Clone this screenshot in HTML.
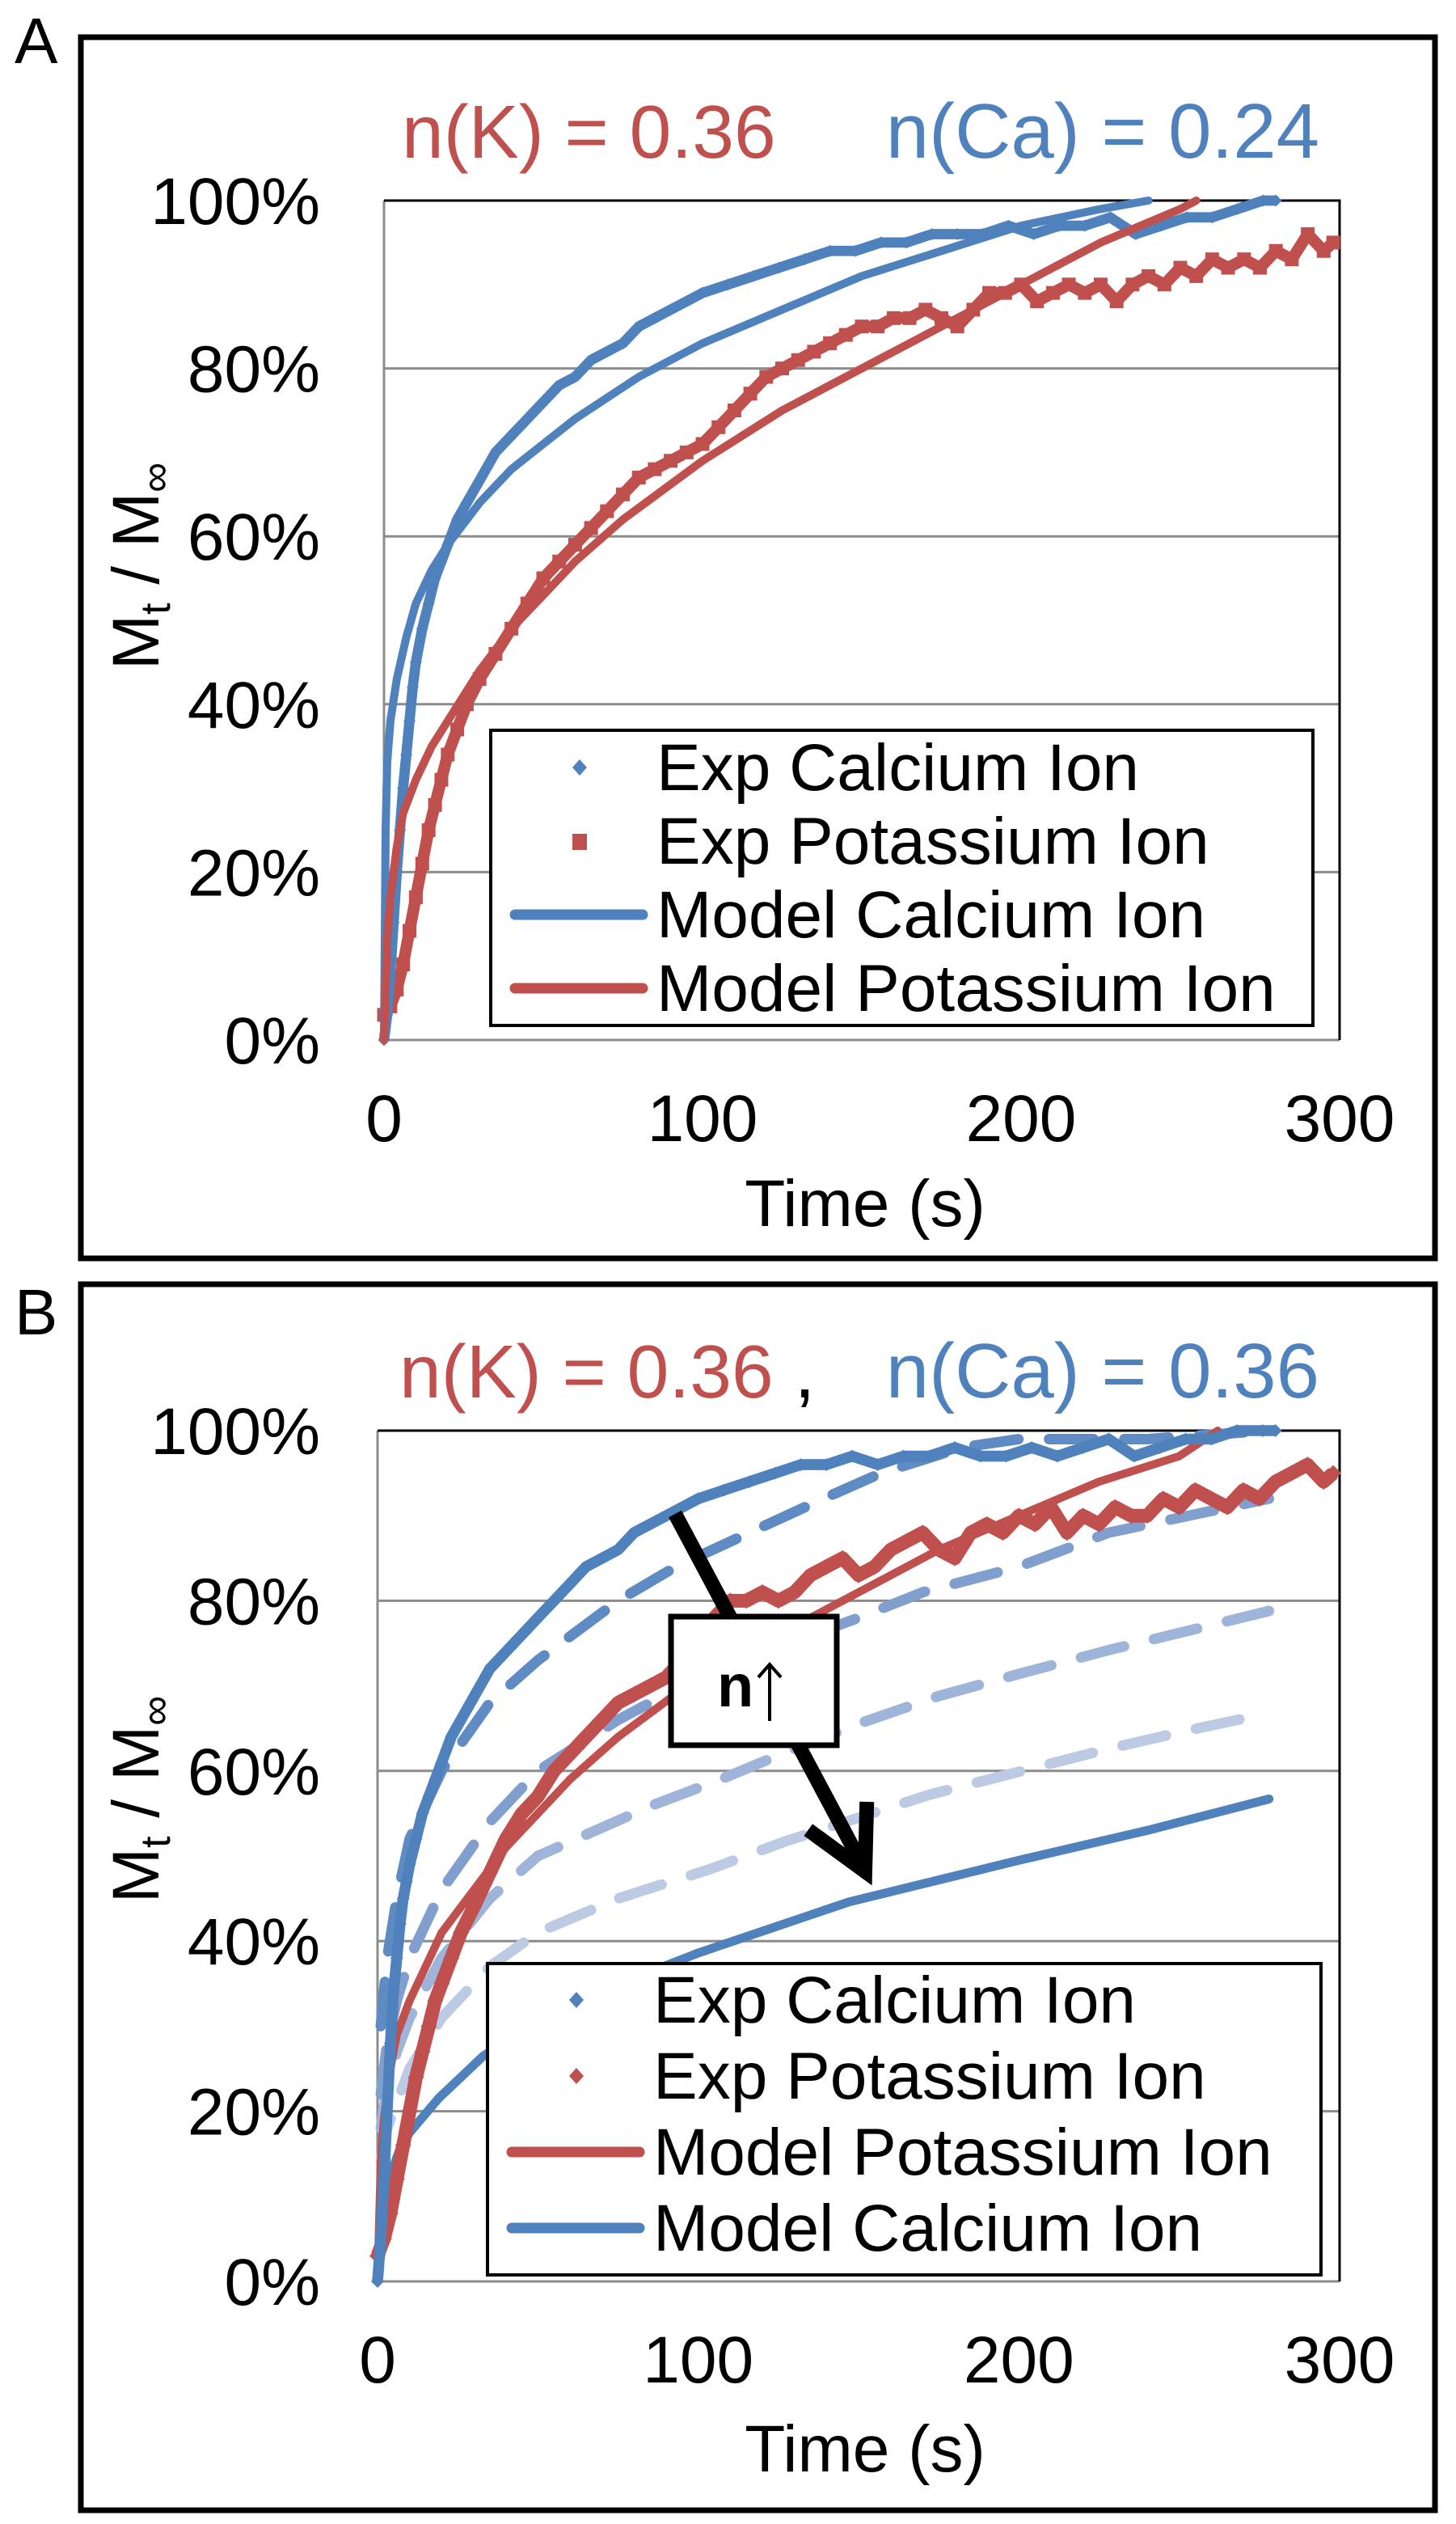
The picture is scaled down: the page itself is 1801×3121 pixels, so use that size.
<!DOCTYPE html>
<html><head><meta charset="utf-8"><style>
html,body{margin:0;padding:0;background:#fff;}
svg{display:block;font-family:"Liberation Sans",Arial,sans-serif;}
</style></head><body>
<svg id="fig" width="1801" height="3121" viewBox="0 0 1801 3121" xmlns="http://www.w3.org/2000/svg">
<text x="18" y="78" font-size="80">A</text>
<rect x="100" y="46" width="1675" height="1510" fill="none" stroke="#000" stroke-width="7"/>
<text x="18" y="1650" font-size="80">B</text>
<rect x="100" y="1588" width="1675" height="1516" fill="none" stroke="#000" stroke-width="7"/>
<g id="pa"></g>
<g id="pb"></g>
</svg>
<script>
// ---------- Panel A data ----------
const yTicks = [0,20,40,60,80,100];
const yTickLabels = ["0%","20%","40%","60%","80%","100%"];
const xTicks = [0,100,200,300];
const xTickLabels = ["0","100","200","300"];

const aExpCaT = [0,1,2,3,4,5,6,7,8,9,10,12,14,16,18,20,23,26,29,32,35,40,45,50,55,60,65,70,75,80,85,90,95,100,108,116,124,132,140,148,156,164,172,180,188,196,204,212,220,228,236,244,252,260,268,276,280];
const aExpCaV = [0,3,8,14,20,25,30,34,38,42,45,49,52,55,57,59,62,64,66,68,70,72,74,76,78,79,81,82,83,85,86,87,88,89,90,91,92,93,94,94,95,95,96,96,96,97,96,97,97,98,96,97,98,98,99,100,100];
const aModCaT = [0,0.5,1,2,4,7,10,15,20,30,40,50,60,80,100,125,150,175,200,225,240];
const aModCaV = [0,25,33,38,43,48,52,56,59,64,68,71,74,79,83,87,91,94,97,99,100];
const aExpKT = [0,2,4,6,8,10,12,14,16,18,20,23,26,30,35,40,45,50,55,60,65,70,75,80,85,90,95,100,105,110,115,120,125,130,135,140,145,150,155,160,165,170,175,180,185,190,195,200,205,210,215,220,225,230,235,240,245,250,255,260,265,270,275,280,285,290,295,298];
const aExpKV = [3,4,6,9,13,17,21,25,28,31,34,37,40,43,46,49,52,55,57,59,61,63,65,67,68,69,70,71,73,75,77,79,80,81,82,83,84,85,85,86,86,87,86,85,87,89,89,90,88,89,90,89,90,88,90,91,90,92,91,93,92,93,92,94,93,96,94,95];
const aModKT = [0,1,2,4,6,10,15,20,30,40,50,60,75,100,125,150,175,200,225,250,255];
const aModKV = [0,12,17,23,27,31,35,38,44,49,53,57,62,69,75,80,85,90,95,99,100];

// ---------- Panel B data ----------
const bExpCaT = [0,1,2,3,4,5,6,7,8,9,10,12,14,16,18,20,23,26,29,32,35,40,45,50,55,60,65,70,75,80,85,90,95,100,108,116,124,132,140,148,156,164,172,180,188,196,204,212,220,228,236,244,252,260,268,276,280];
const bExpCaV = [0,5,12,20,28,34,38,42,45,47,49,52,55,57,59,61,64,66,68,70,72,74,76,78,80,82,84,85,86,88,89,90,91,92,93,94,95,96,96,97,96,97,97,98,97,97,98,97,98,99,97,98,99,99,100,100,100];
const bExpKT = [0,2,4,6,8,10,12,14,16,18,20,23,26,30,35,40,45,50,55,60,65,70,75,80,85,90,95,100,105,110,115,120,125,130,135,140,145,150,155,160,165,170,175,180,185,190,195,200,205,210,215,220,225,230,235,240,245,250,255,260,265,270,275,280,285,290,295,298];
const bExpKV = [3,5,8,12,16,20,24,27,30,33,35,38,41,44,48,52,55,57,60,62,64,66,68,69,70,71,73,75,78,80,80,81,80,81,83,84,85,83,84,86,87,88,86,85,88,89,88,90,89,91,88,90,89,91,90,90,92,91,93,92,91,93,92,94,95,96,94,95];
const bModKT = [0,1,2,4,6,10,15,20,30,40,50,60,75,100,125,150,175,200,225,250,262];
const bModKV = [0,14,19,25,29,33,37,41,46,51,55,59,64,71,76,81,86,90,94,97,100];
const bModCaT = [1,2,4,7,10,19,33,60,100,147,200,240,278];
const bModCaV = [7,9.5,12.5,15.6,17.5,21.5,26.5,32.7,38.6,44.6,49.5,53,56.7];
const bDash1T = [1,3,6,10,20,35,50,75,93,116,139,157,182,200,240,278];
const bDash1V = [30,38,45,52,60,68,73,80,84,88,92,95,98,99,99,100];
const bDash2T = [1,3,6,10,20,35,50,75,100,150,170,200,228,253,278];
const bDash2V = [22,28,33,38,46,54,60,66,71,78,81,84,88,90,92];
const bDash3T = [1,3,6,10,20,35,50,86,107,126,152,175,201,229,252,278];
const bDash3V = [18,23,27,31,38,45,50,56,59,62,65.8,68.8,71.5,74.3,76.4,78.8];
const bDash4T = [1,3,6,10,20,35,50,75,104,127,172,201,229,252,278];
const bDash4V = [14,18,21,25,31,37,41,45,48.5,51.7,57.2,60,62.7,64.7,66.8];

const BLUE="#4f81bd", RED="#c0504d";
const NS="http://www.w3.org/2000/svg";
function mk(tag, attrs, parent){const e=document.createElementNS(NS,tag);for(const k in attrs)e.setAttribute(k,attrs[k]);parent.appendChild(e);return e;}

function makeAxes(x0,x300,y0,y100){
  return {x:t=>x0+(x300-x0)*t/300, y:v=>y0-(y0-y100)*v/100};
}
function pts(ax,T,V){return T.map((t,i)=>ax.x(t).toFixed(1)+","+ax.y(Math.min(V[i],100)).toFixed(1)).join(" ");}

function drawFrame(g,ax,x0,x300,y0,y100,title){
  yTicks.forEach((v,i)=>{
    if(v>0&&v<100){const l=mk('line',{x1:x0,x2:x300,y1:ax.y(v),y2:ax.y(v),stroke:"#8c8c8c","stroke-width":3},g);
    
    }
    const t=mk('text',{x:396,y:ax.y(v)+29,"font-size":82,"text-anchor":"end"},g);
    t.textContent=yTickLabels[i];
    
    
  });
  const ax1=mk('line',{x1:x0,x2:x0,y1:y0,y2:y100,stroke:"#8c8c8c","stroke-width":3},g);
  
  
  const ax2=mk('line',{x1:x0,x2:x300,y1:y0,y2:y0,stroke:"#8c8c8c","stroke-width":3},g);
  
  
  const top=mk('polyline',{points:`${x0},${y100} ${x300},${y100} ${x300},${y0}`,fill:"none",stroke:"#000","stroke-width":3},g);
  
  
  xTicks.forEach((t,i)=>{
    const e=mk('text',{x:ax.x(t),y:y0+125,"font-size":82,"text-anchor":"middle"},g);
    e.textContent=xTickLabels[i];
    
    
  });
  const xt=mk('text',{x:1070,y:y0+(title?235:230),"font-size":82,"text-anchor":"middle"},g);
  xt.textContent="Time (s)";
  
  
}
function yTitle(g,cy){
  const t=mk('text',{x:0,y:0,"font-size":82,"text-anchor":"middle",transform:`translate(196,${cy}) rotate(-90)`},g);
  t.innerHTML='M<tspan font-size="52" dy="14">t</tspan><tspan dy="-14"> / M</tspan><tspan font-size="52" dy="14">∞</tspan>';
  
  
}
function line(g,ax,T,V,color,w,name,dash){
  const a={points:pts(ax,T,V),fill:"none",stroke:color,"stroke-width":w,"stroke-linejoin":"round","stroke-linecap":"round"};
  if(dash)a["stroke-dasharray"]=dash;
  const l=mk('polyline',a,g);
  
  
}
function scatter(g,ax,T,V,color,shape,sz,name){
  const grp=mk('g',{},g);
  
  
  mk('polyline',{points:pts(ax,T,V),fill:"none",stroke:color,"stroke-width":sz*0.85,"stroke-linejoin":"round"},grp);
  T.forEach((t,i)=>{
    const x=ax.x(t),y=ax.y(Math.min(V[i],100));
    let m;
    if(shape==='sq') m=mk('rect',{x:x-sz/2,y:y-sz/2,width:sz,height:sz,fill:color},grp);
    else m=mk('polygon',{points:`${x},${y-sz/2} ${x+sz/2},${y} ${x},${y+sz/2} ${x-sz/2},${y}`,fill:color},grp);
    
    
  });
}
function legend(g,x,y,w,h,rows,rowStart,step){
  const r=mk('rect',{x:x,y:y,width:w,height:h,fill:"#fff",stroke:"#000","stroke-width":4},g);
  
  
  rows.forEach((row,i)=>{
    const by=rowStart+i*step, cy=by-28;
    const eg=mk('g',{},g);
    
    
    if(row.type==='line') mk('line',{x1:x+30,x2:x+188,y1:cy,y2:cy,stroke:row.color,"stroke-width":13,"stroke-linecap":"round"},eg);
    else if(row.type==='sq') mk('rect',{x:x+101,y:cy-9,width:18,height:20,fill:row.color},eg);
    else mk('polygon',{points:`${x+110},${cy-10} ${x+119},${cy} ${x+110},${cy+10} ${x+101},${cy}`,fill:row.color},eg);
    const t=mk('text',{x:x+205,y:by,"font-size":82},eg);
    t.textContent=row.label;
  });
}

// ---------- Panel A ----------
(function(){
  const g=document.getElementById('pa');
  const x0=475,x300=1657,y0=1286,y100=248;
  const ax=makeAxes(x0,x300,y0,y100);
  drawFrame(g,ax,x0,x300,y0,y100,false);
  yTitle(g,700);
  scatter(g,ax,aExpKT,aExpKV,RED,'sq',17,'exp-potassium-series');
  scatter(g,ax,aExpCaT,aExpCaV,BLUE,'dia',15,'exp-calcium-series');
  line(g,ax,aModCaT,aModCaV,BLUE,10,'model-calcium-line');
  line(g,ax,aModKT,aModKV,RED,10,'model-potassium-line');
  legend(g,607,903,1017,365,[
    {type:'dia',color:BLUE,label:'Exp Calcium Ion'},
    {type:'sq',color:RED,label:'Exp Potassium Ion'},
    {type:'line',color:BLUE,label:'Model Calcium Ion'},
    {type:'line',color:RED,label:'Model Potassium Ion'}],977,91);
  const t=mk('text',{x:497,y:195,"font-size":93},g);
  t.innerHTML='<tspan fill="#c0504d">n(K) = 0.36</tspan>';
  
  
  const t2=mk('text',{x:1632,y:195,"font-size":96,"text-anchor":"end",fill:BLUE},g);
  t2.textContent='n(Ca) = 0.24';
  
  
})();

// ---------- Panel B ----------
(function(){
  const g=document.getElementById('pb');
  const x0=467,x300=1657,y0=2821,y100=1769;
  const ax=makeAxes(x0,x300,y0,y100);
  drawFrame(g,ax,x0,x300,y0,y100,true);
  yTitle(g,2225);
  line(g,ax,bDash4T,bDash4V,"#bccbe3",13,'model-calcium-dashed-4',"55 38");
  line(g,ax,bDash3T,bDash3V,"#9fb4d9",13,'model-calcium-dashed-3',"55 38");
  line(g,ax,bDash2T,bDash2V,"#809fcf",13,'model-calcium-dashed-2',"55 38");
  line(g,ax,bDash1T,bDash1V,"#5f8bc4",13,'model-calcium-dashed-1',"55 38");
  line(g,ax,bModCaT,bModCaV,BLUE,11,'model-calcium-line');
  scatter(g,ax,bExpKT,bExpKV,RED,'dia',20,'exp-potassium-series');
  line(g,ax,bModKT,bModKV,RED,10,'model-potassium-line');
  scatter(g,ax,bExpCaT,bExpCaV,BLUE,'dia',16,'exp-calcium-series');
  // arrow
  const ag=mk('g',{},g);
  
  
  mk('line',{x1:835,y1:1872,x2:1066,y2:2305,stroke:"#000","stroke-width":18},ag);
  mk('polyline',{points:"1007,2268 1070,2314 1072,2237",fill:"none",stroke:"#000","stroke-width":18,"stroke-linecap":"square"},ag);
  const bx=mk('rect',{x:830,y:1999,width:205,height:159,fill:"#fff",stroke:"#000","stroke-width":7},g);
  
  
  const nt=mk('text',{x:887,y:2110,"font-size":74,"font-weight":"bold"},g);
  nt.textContent='n';
  
  
  const ug=mk('g',{},g);
  
  
  mk('line',{x1:952,y1:2128,x2:952,y2:2060,stroke:"#000","stroke-width":4},ug);
  mk('polyline',{points:"938,2074 952,2058 966,2074",fill:"none",stroke:"#000","stroke-width":4},ug);
  legend(g,603,2428,1031,385,[
    {type:'dia',color:BLUE,label:'Exp Calcium Ion'},
    {type:'dia',color:RED,label:'Exp Potassium Ion'},
    {type:'line',color:RED,label:'Model Potassium Ion'},
    {type:'line',color:BLUE,label:'Model Calcium Ion'}],2501,94);
  const t=mk('text',{x:494,y:1728,"font-size":93},g);
  t.innerHTML='<tspan fill="#c0504d">n(K) = 0.36</tspan><tspan fill="#000"> , </tspan>';
  
  
  const t2=mk('text',{x:1632,y:1728,"font-size":96,"text-anchor":"end",fill:BLUE},g);
  t2.textContent='n(Ca) = 0.36';
  
  
})();
</script>
</body></html>
